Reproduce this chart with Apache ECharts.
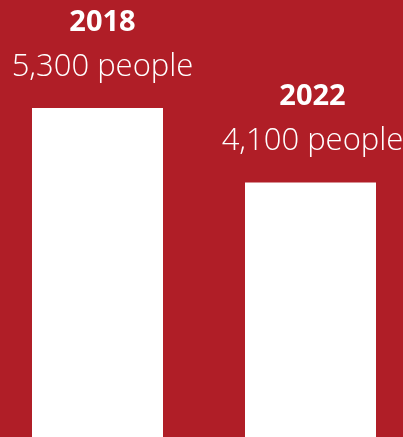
<!DOCTYPE html>
<html><head><meta charset="utf-8">
<script src="https://cdn.jsdelivr.net/npm/echarts@6/dist/echarts.min.js"></script>
<style>html,body{margin:0;padding:0;background:#B01E27;overflow:hidden;width:403px;height:437px;}#c{width:426px;height:437px;margin-left:-9px;}</style>
</head><body><div id="c"></div>
<script>
const categories = ['2018', '2022'];
const values = [5300, 4100];
const valueLabels = ['5,300 people', '4,100 people'];

const chart = echarts.init(document.getElementById('c'));
chart.setOption({
  backgroundColor: '#B01E27',
  animation: false,
  grid: { left: 0, right: 0, top: 0, bottom: 0 },
  xAxis: { type: 'category', data: categories, show: false },
  yAxis: { type: 'value', min: 0, max: 7040, show: false },
  series: [{
    type: 'bar',
    barWidth: 131,
    data: values.map((v, i) => ({ value: v, label: { offset: [i === 0 ? 5 : 2, 0] } })),
    itemStyle: { color: '#FFFFFF' },
    label: {
      show: true,
      position: 'top',
      distance: 19,
      formatter: p => '{y|' + categories[p.dataIndex] + '}\n{v|' + valueLabels[p.dataIndex] + '}',
      rich: {
        y: { fontFamily: 'Open Sans', fontWeight: 700, fontSize: 29, color: '#fff', lineHeight: 45 },
        v: { fontFamily: 'Open Sans', fontWeight: 300, fontSize: 31, color: '#fff', lineHeight: 44 }
      }
    }
  }]
});
</script></body></html>
